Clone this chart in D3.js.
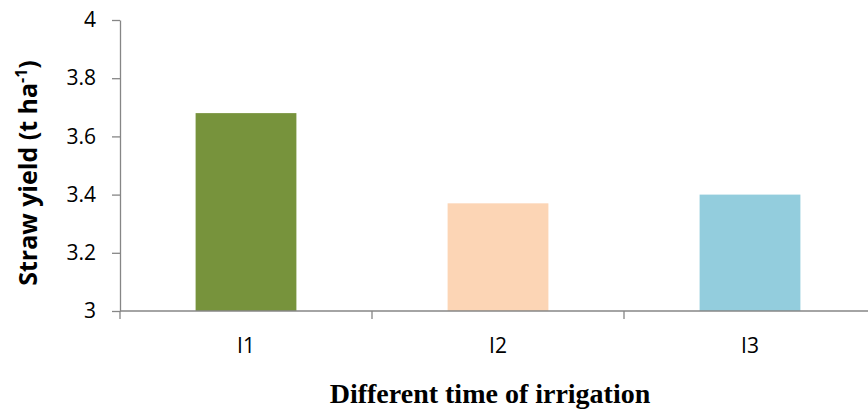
<!DOCTYPE html>
<html>
<head>
<meta charset="utf-8">
<script src="https://cdn.jsdelivr.net/npm/d3@7"></script>
<style>
  body { margin: 0; background: #fff; }
</style>
</head>
<body>
<div id="chart"></div>
<script>
const categories = ["I1", "I2", "I3"];
const strawYield = [3.68, 3.37, 3.40];
const barColours = ["#77933C", "#FCD5B5", "#93CDDD"];
const yTicks = [3, 3.2, 3.4, 3.6, 3.8, 4];

const width = 868;
const height = 410;
const margin = { top: 20, right: -8, bottom: 99, left: 120 };
const graphW = width - margin.left - margin.right;
const graphH = height - margin.top - margin.bottom;
const axisColour = "#868686";
const font = "'Open Sans', 'Liberation Sans', sans-serif";

let svg = d3.select("#chart").append("svg")
    .attr("width", width)
    .attr("height", height);

let group = svg.append("g")
    .attr("transform", `translate(${margin.left}, ${margin.top})`);

// x axis setup
const x = d3.scaleBand()
    .domain(categories)
    .range([0, graphW])
    .paddingInner(0.6)
    .paddingOuter(0.3);

// y axis setup
const y = d3.scaleLinear()
    .domain([3, 4])
    .range([graphH, 0]);

// bars
group.append("g")
    .selectAll("rect")
    .data(categories)
    .enter()
    .append("rect")
    .attr("x", d => x(d))
    .attr("y", (d, i) => y(strawYield[i]))
    .attr("width", x.bandwidth())
    .attr("height", (d, i) => graphH - y(strawYield[i]))
    .attr("fill", (d, i) => barColours[i]);

// y axis
const yAxis = group.append("g")
    .call(d3.axisLeft(y)
        .tickValues(yTicks)
        .tickFormat(d3.format("~g"))
        .tickSize(8)
        .tickSizeOuter(0)
        .tickPadding(16));
yAxis.selectAll("line, path").attr("stroke", axisColour).attr("stroke-width", 1.3);
yAxis.selectAll("text")
    .style("font-family", font)
    .style("font-size", "21px")
    .attr("fill", "#000");

// x axis, ticks sit between the categories
const step = x.step();
const xTickPos = d3.range(categories.length + 1).map(i => i * step);
const xAxis = group.append("g")
    .attr("transform", `translate(0, ${graphH})`);
xAxis.append("line")
    .attr("x1", 0).attr("x2", graphW)
    .attr("stroke", axisColour).attr("stroke-width", 1.3);
xAxis.selectAll("tick")
    .data(xTickPos)
    .enter()
    .append("line")
    .attr("x1", d => d).attr("x2", d => d)
    .attr("y1", 0).attr("y2", 8)
    .attr("stroke", axisColour).attr("stroke-width", 1.3);
xAxis.selectAll("label")
    .data(categories)
    .enter()
    .append("text")
    .attr("x", d => x(d) + x.bandwidth() / 2)
    .attr("y", 42)
    .attr("text-anchor", "middle")
    .style("font-family", font)
    .style("font-size", "21px")
    .text(d => d);

// axis titles
const yTitle = svg.append("text")
    .attr("transform", "translate(37, 173) rotate(-90)")
    .attr("text-anchor", "middle")
    .style("font-family", font)
    .style("font-size", "25px")
    .style("font-weight", 700);
yTitle.append("tspan").text("Straw yield (t ha");
yTitle.append("tspan").attr("dy", -10).style("font-size", "16px").text("-1");
yTitle.append("tspan").attr("dy", 10).text(")");

svg.append("text")
    .attr("x", 490)
    .attr("y", 403)
    .attr("text-anchor", "middle")
    .style("font-family", "'Liberation Serif', 'Times New Roman', serif")
    .style("font-size", "28px")
    .style("font-weight", 700)
    .text("Different time of irrigation");
</script>
</body>
</html>
